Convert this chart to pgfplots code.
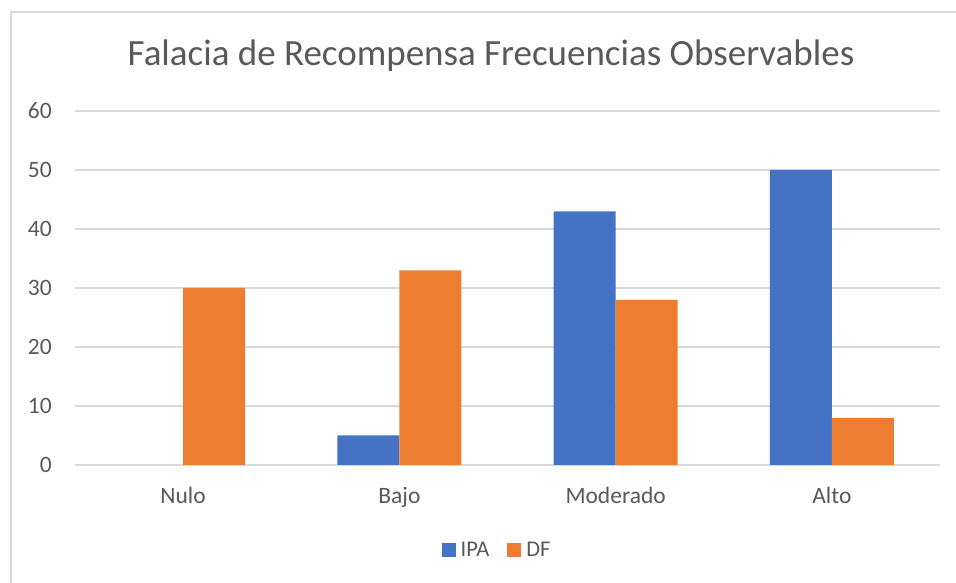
\documentclass[border=0pt]{standalone}
\usepackage{fontspec}
\setmainfont{Carlito}
\usepackage{pgfplots}
\pgfplotsset{compat=1.18}
\definecolor{ipa}{HTML}{4472C4}
\definecolor{df}{HTML}{ED7D31}
\definecolor{gridc}{HTML}{D9D9D9}
\definecolor{txt}{HTML}{595959}
\begin{document}
\begin{tikzpicture}[x=1pt,y=1pt]
\path[use as bounding box] (0,0) rectangle (956,583);
\draw[gridc,line width=1.2pt] (11,-5) -- (11,571) -- (962,571);
\node[anchor=base,text=txt,font=\fontsize{37}{44}\selectfont,inner sep=0] at (491,517) {Falacia de Recompensa Frecuencias Observables};
\begin{axis}[
  at={(75pt,118pt)}, anchor=south west,
  scale only axis, width=865pt, height=354pt,
  ybar=0pt, bar width=62pt,
  xmin=-0.5, xmax=3.5, ymin=0, ymax=60,
  xtick={0,1,2,3}, xticklabels={Nulo,Bajo,Moderado,Alto},
  ytick={0,10,...,60},
  axis line style={draw=none},
  major tick length=0pt,
  ymajorgrids, grid style={gridc,line width=1.2pt},
  tick label style={text=txt,font=\fontsize{23.5}{28}\selectfont},
  /pgf/number format/assume math mode=true,
  yticklabel style={anchor=east,inner sep=0pt,xshift=-23pt},
  xticklabel style={anchor=base,inner sep=0pt,yshift=-39pt},
  legend style={draw=none,at={(0.4880,-0.240)},anchor=center,
     font=\fontsize{22.5}{26}\selectfont,text=txt,
     /tikz/every odd column/.append style={column sep=3pt},
     /tikz/every even column/.append style={column sep=16pt}},
  legend columns=2,
  legend image code/.code={\fill[#1] (0pt,-7pt) rectangle (14pt,7pt);},
]
\addplot[fill=ipa,draw=none,y filter/.expression={y==0 ? nan : y}] coordinates {(0,0) (1,5) (2,43) (3,50)};
\addplot[fill=df,draw=none] coordinates {(0,30) (1,33) (2,28) (3,8)};
\legend{IPA,DF}
\end{axis}
\end{tikzpicture}
\end{document}
